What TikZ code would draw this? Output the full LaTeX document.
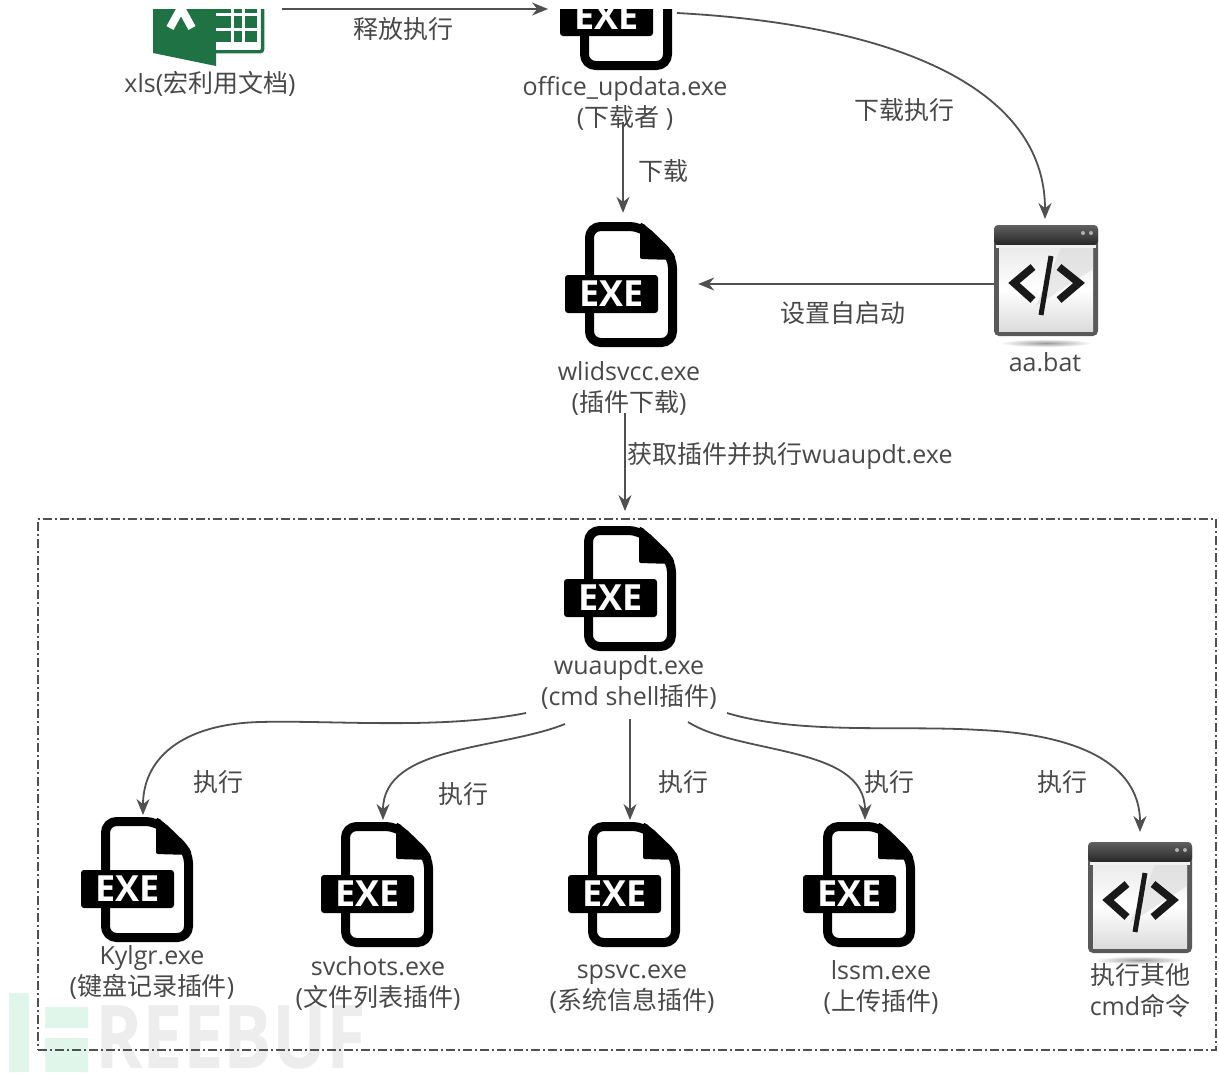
\documentclass[tikz,border=0pt]{standalone}
\usepackage{fontspec}
\setmainfont{Open Sans}
\newfontfamily\zhfont{Noto Sans CJK SC}
\newcommand{\zh}[1]{{\zhfont #1}}
\usetikzlibrary{calc,arrows.meta}
\definecolor{txt}{HTML}{484848}
\definecolor{lin}{HTML}{505050}
\definecolor{xlgreen}{HTML}{1F7244}
\tikzset{
  x=1pt,y=-1pt,
  lbl/.style={text=txt,font=\fontsize{25}{31}\selectfont,align=center,inner sep=0pt},
  conn/.style={draw=lin,line width=1.8pt,-{Stealth[length=16pt,width=13pt]}},
  exeicon/.pic={
    \draw[black,line width=9pt,rounded corners=11pt,line join=round]
      (-15,-58.5) -- (10,-58.5) -- (41.5,-28) -- (41.5,57.5) -- (-41.5,57.5) -- (-41.5,-58.5) -- cycle;
    \fill[black,rounded corners=2pt] (9,-62) -- (9,-26) -- (44,-25) -- (44,-30) -- (12,-62) -- cycle;
    \fill[black,rounded corners=3pt] (-66,-10) rectangle (27,28);
    \node[text=white,inner sep=0pt,font=\fontsize{36}{36}\selectfont\bfseries] (-txt) at (-19.5,9) {EXE};
    \node[minimum width=134pt,minimum height=144pt,inner sep=0pt] (-box) at (0,0) {};
  },
  codeicon/.pic={
    \shade[inner color=black!40,outer color=white] (0,62) ellipse (46 and 4);
    \fill[rounded corners=5pt,fill=black!65] (-52,-56) rectangle (52,55);
    \shade[rounded corners=4pt,top color=black!62,bottom color=black!85] (-52,-56) rectangle (52,-36);
    \fill[black!30] (37,-48) circle (2) (45,-48) circle (2);
    \fill[black!6] (-50,-36) rectangle (50,-33);
    \shade[top color=black!8,bottom color=black!14,middle color=white] (-47,-33) rectangle (47,50);
    \fill[black!14,opacity=.6] (15,-33) -- (47,-33) -- (47,-12) -- (-10,25) -- cycle;
    \draw[black!90,line width=7.5pt,line join=miter] (-13,-14) -- (-32,2) -- (-13,19);
    \draw[black!90,line width=7.5pt,line join=miter] (13,-14) -- (33,2) -- (13,19);
    \draw[black!90,line width=5pt] (5,-25) -- (-5,34);
    \node[minimum width=104pt,minimum height=113pt,inner sep=0pt] (-box) at (0,0) {};
  }
}
\begin{document}
\begin{tikzpicture}
\useasboundingbox (0,0) rectangle (1219,1072);
% watermark
\begin{scope}
\clip (0,0) rectangle (1219,1072);
\fill[green!40!teal!12] (9,993) rectangle (29,1072) (45,1007) rectangle (88,1028) (45,1038) rectangle (88,1072);
\node[inner sep=0pt,anchor=west,text=black!7,xscale=.82,font=\fontsize{88}{88}\selectfont\bfseries] (wm) at (95,1038) {REEBUF};
\end{scope}
% top icons, cut by the picture's upper edge
\begin{scope}
\clip (0,9.5) rectangle (1219,200);
\fill[xlgreen] (153,0) -- (216,0) -- (216,66) -- (153,53) -- cycle;
\draw[xlgreen,line width=3.5pt,rounded corners=2pt] (216,51.5) -- (262.5,51.5) -- (262.5,0);
\fill[xlgreen] (216,0) rectangle (257,43);
\draw[white,line width=3pt] (216,14) -- (257,14) (216,29) -- (257,29) (216,43.5) -- (257,43.5) (232,0) -- (232,44) (243,0) -- (243,44);
\fill[white] (216,44) rectangle (260,49.5);
\draw[white,line width=8pt] (170,28) -- (181,8) -- (192,28);
\pic (office) at (626,8) {exeicon};
\end{scope}
\pic (wlids) at (631,285) {exeicon};
\pic (aabat) at (1046,281) {codeicon};
\pic (wuau) at (630,589) {exeicon};
\pic (kylgr) at (147,880) {exeicon};
\pic (svc) at (387,885) {exeicon};
\pic (sps) at (634,885) {exeicon};
\pic (lssm) at (869,885) {exeicon};
\pic (cmd) at (1140,898) {codeicon};
% container
\node[draw=lin,line width=1.8pt,dash pattern=on 9pt off 3pt on 2pt off 3pt,minimum width=1178pt,minimum height=531pt,inner sep=0pt] (box) at (627,784.5) {};
% labels
\node[lbl] (xlslbl) at (210,84) {xls(\zh{宏利用文档})};
\node[lbl] (officelbl) at (625,103) {office\_updata.exe\\(\zh{下载者} )};
\node[lbl] (wlidslbl) at (629,388.5) {wlidsvcc.exe\\(\zh{插件下载})};
\node[lbl] (aalbl) at (1045,362) {aa.bat};
\node[lbl] (wuaulbl) at (629,682) {wuaupdt.exe\\(cmd shell\zh{插件})};
\node[lbl] (kylbl) at (152,972) {Kylgr.exe\\(\zh{键盘记录插件})};
\node[lbl] (svclbl) at (378,983) {svchots.exe\\(\zh{文件列表插件})};
\node[lbl] (spslbl) at (632,989) {spsvc.exe\\(\zh{系统信息插件})};
\node[lbl] (lssmlbl) at (881,987.5) {lssm.exe\\(\zh{上传插件})};
\node[lbl] (cmdlbl) at (1140,990.5) {\zh{执行其他}\\cmd\zh{命令}};
\node[lbl] (e1) at (403,29) {\zh{释放执行}};
\node[lbl] (e2) at (663,171) {\zh{下载}};
\node[lbl] (e3) at (904,110) {\zh{下载执行}};
\node[lbl] (e4) at (843,313) {\zh{设置自启动}};
\node[lbl,anchor=west] (e5) at (627,455.5) {\zh{获取插件并执行}wuaupdt.exe};
\node[lbl] (e6) at (218,782) {\zh{执行}};
\node[lbl] (e7) at (463,794) {\zh{执行}};
\node[lbl] (e8) at (683,782) {\zh{执行}};
\node[lbl] (e9) at (889,782) {\zh{执行}};
\node[lbl] (e10) at (1062,782) {\zh{执行}};
% free ends
\coordinate (xlsout) at (282,9);
\coordinate (officein) at (548,9);
\coordinate (officeout) at (677,13);
\coordinate (aain) at (1045,219);
\coordinate (boxin) at ([yshift=7pt]box.north -| 625,0);
\coordinate (w1) at (526,713);
\coordinate (w2) at (565,724);
\coordinate (w4) at (688,722);
\coordinate (w5) at (727,713);
% connectors
\draw[conn] (xlsout) -- (officein);
\draw[conn] (officeout) .. controls (900,25) and (1045,90) .. (aain);
\draw[conn] ([yshift=8pt]officelbl.south -| 623,0) -- (wlids-box.north -| 623,0);
\draw[conn] (aabat-box.west |- 0,284) -- (wlids-box.east |- 0,284);
\draw[conn] (625,413) -- (boxin);
\draw[conn] (w1) .. controls (440,730) and (330,720) .. (260,722) .. controls (180,724) and (143,760) .. (143,815);
\draw[conn] (w2) .. controls (500,750) and (383,745) .. (383,820);
\draw[conn] ([yshift=-10pt]wuaulbl.south -| 630,0) -- (630,820);
\draw[conn] (w4) .. controls (740,755) and (865,745) .. (865,820);
\draw[conn] (w5) .. controls (800,735) and (900,725) .. (980,730) .. controls (1090,735) and (1140,770) .. (1140,832);
\end{tikzpicture}
\end{document}
